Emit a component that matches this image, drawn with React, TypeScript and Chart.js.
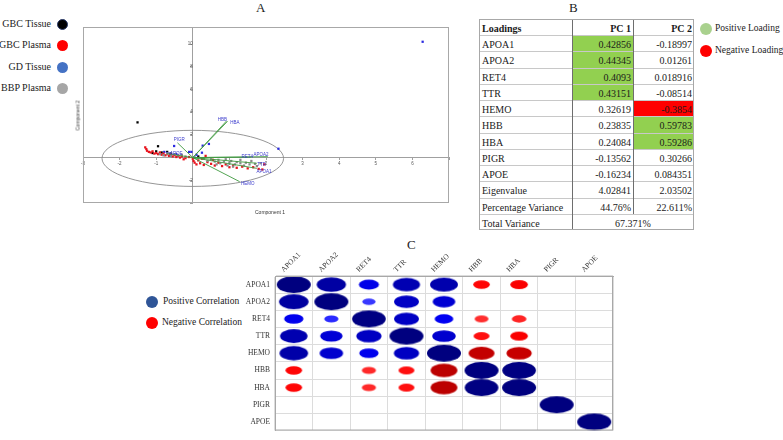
import React, { useEffect, useRef } from 'react';
import { Chart, registerables } from 'chart.js';

Chart.register(...registerables);

// ---------------- Panel A : PCA biplot ----------------
const GBC_TISSUE: number[][] = [
  [-1.51, 3.1], [-0.95, 1.0], [-1.0, 0.55], [-0.85, 0.45], [-0.7, 0.5], [-0.6, 0.35], [-1.1, 0.4], [0.15, 0.1],
];
const GBC_PLASMA: number[][] = [
  [-1.3, 0.9], [-1.27, 0.75], [-1.25, 0.6], [-1.2, 0.5], [-1.15, 0.45], [-1.1, 0.55], [-1.05, 0.35], [-1.0, 0.4],
  [-0.95, 0.3], [-0.9, 0.45], [-0.85, 0.25], [-0.8, 0.35], [-0.75, 0.2], [-0.7, 0.3], [-0.65, 0.15], [-0.6, 0.25],
  [-0.55, 0.1], [-0.5, 0.2], [-0.45, 0.05], [-0.4, 0.15], [-0.35, 0.0], [-0.3, 0.1], [-0.2, -0.05], [-0.1, 0.05],
  [0.0, -0.1], [0.02, -0.3], [0.05, -0.45], [0.1, -0.6], [0.15, -0.25], [0.2, -0.5], [0.3, -0.65], [0.35, 0.15],
  [0.4, -0.4], [0.5, -0.55], [0.55, -0.2], [0.6, -0.7], [0.7, -0.45], [0.8, -0.75], [0.9, -0.6], [1.0, -0.85],
  [1.1, -0.7], [1.2, -0.9], [1.35, -0.8], [1.5, -0.95], [1.65, -0.85], [1.8, -1.0], [1.95, -0.6], [1.9, -1.05],
  [0.25, -0.1], [-0.25, -0.15],
];
const GD_TISSUE: number[][] = [
  [6.28, 10.2], [2.34, 0.78], [-0.51, 1.02], [0.27, 1.05], [0.44, 1.2], [0.25, 0.43], [-0.1, 0.5], [-0.04, 0.5],
  [0.1, 0.25], [-0.78, 0.5], [-0.7, 0.4], [-0.62, 0.35], [-0.45, 0.3], [-0.9, 0.35], [0.05, 0.0],
];
const BBP_PLASMA: number[][] = [
  [-0.9, 0.3], [-0.8, 0.2], [-0.7, 0.35], [-0.6, 0.15], [-0.5, 0.3], [-0.4, 0.2], [-0.3, 0.25], [-0.2, 0.1],
  [0.3, -0.1], [0.4, -0.3], [0.5, -0.15], [0.6, -0.35], [0.7, -0.2], [0.75, -0.5], [0.85, -0.35], [0.9, -0.15],
  [1.0, -0.45], [1.05, -0.3], [1.15, -0.6], [1.2, -0.4], [1.3, -0.5], [1.4, -0.7], [1.45, -0.45], [1.55, -0.6],
  [1.6, -0.3], [1.7, -0.55], [1.75, -0.75], [1.85, -0.5], [1.3, -0.2], [0.95, -0.7], [0.65, -0.6], [1.1, -0.8],
];

const LOADING_NAMES = ['HBB', 'HBA', 'PIGR', 'APOE', 'APOA2', 'RET4', 'TTR', 'APOA1', 'HEMO'];
const LOADING_END_X = [0.92, 0.95, -0.42, -0.7, 2.05, 1.6, 1.75, 1.75, 1.28];
const LOADING_END_Y = [3.22, 3.2, 1.3, 0.35, 0.08, 0.04, -0.5, -0.95, -2.12];
const LOADING_LABEL_X = [0.68, 1.02, -0.52, -0.62, 1.66, 1.33, 1.76, 1.74, 1.32];
const LOADING_LABEL_Y = [3.3, 3.1, 1.55, 0.3, 0.28, 0.05, -0.66, -1.25, -2.32];

const ELLIPSE_CX = 0.0;
const ELLIPSE_CY = -0.07;
const ELLIPSE_RX = 2.48;
const ELLIPSE_RY = 2.47;

const X_MIN = -3, X_MAX = 7, Y_MIN = -4, Y_MAX = 11.5;

// ---------------- Panel B : loadings table ----------------
const TABLE_ROWS = ['APOA1', 'APOA2', 'RET4', 'TTR', 'HEMO', 'HBB', 'HBA', 'PIGR', 'APOE'];
const PC1 = ['0.42856', '0.44345', '0.4093', '0.43151', '0.32619', '0.23835', '0.24084', '-0.13562', '-0.16234'];
const PC2 = ['-0.18997', '0.01261', '0.018916', '-0.08514', '-0.3854', '0.59783', '0.59286', '0.30266', '0.084351'];
const EIGEN = ['4.02841', '2.03502'];
const PCT_VAR = ['44.76%', '22.611%'];
const TOTAL_VAR = '67.371%';
const HIGHLIGHT = 0.38;

// ---------------- Panel C : correlation matrix ----------------
const VARS = ['APOA1', 'APOA2', 'RET4', 'TTR', 'HEMO', 'HBB', 'HBA', 'PIGR', 'APOE'];
const CORR_APOA1 = [1.0, 0.86, 0.59, 0.8, 0.82, -0.49, -0.52, 0, 0];
const CORR_APOA2 = [0.87, 1.0, 0.39, 0.73, 0.67, 0, 0, 0, 0];
const CORR_RET4 = [0.57, 0.42, 0.99, 0.73, 0.55, -0.41, -0.43, 0, 0];
const CORR_TTR = [0.81, 0.66, 0.74, 1.0, 0.69, -0.47, -0.52, 0, 0];
const CORR_HEMO = [0.84, 0.69, 0.57, 0.74, 1.0, -0.76, -0.74, 0, 0];
const CORR_HBB = [-0.49, 0, -0.42, -0.47, -0.79, 1.0, 0.99, 0, 0];
const CORR_HBA = [-0.49, 0, -0.42, -0.47, -0.79, 0.99, 1.0, 0, 0];
const CORR_PIGR = [0, 0, 0, 0, 0, 0, 0, 1.0, 0];
const CORR_APOE = [0, 0, 0, 0, 0, 0, 0, 0, 1.0];
const CORR_ROWS = [CORR_APOA1, CORR_APOA2, CORR_RET4, CORR_TTR, CORR_HEMO, CORR_HBB, CORR_HBA, CORR_PIGR, CORR_APOE];

const SERIF = "'Liberation Serif', 'Times New Roman', serif";
const SANS = "'Liberation Sans', Arial, sans-serif";

function hexToRgb(h: string) {
  return [parseInt(h.slice(1, 3), 16), parseInt(h.slice(3, 5), 16), parseInt(h.slice(5, 7), 16)];
}
const RAMP: [number, string][] = [[-1, '#8b0000'], [-0.5, '#ff0000'], [0, '#ffffff'], [0.5, '#0000ff'], [1, '#00007f']];
function corrColor(v: number) {
  for (let i = 0; i < RAMP.length - 1; i++) {
    const [a, ca] = RAMP[i];
    const [b, cb] = RAMP[i + 1];
    if (v >= a && v <= b) {
      const t = (v - a) / (b - a);
      const A = hexToRgb(ca), B = hexToRgb(cb);
      const c = A.map((x, k) => Math.round(x + (B[k] - x) * t));
      return `rgb(${c[0]},${c[1]},${c[2]})`;
    }
  }
  return '#000';
}

function toPts(arr: number[][]) {
  return arr.map(([x, y]) => ({ x, y }));
}

const pcaPlugin = {
  id: 'pcaDecor',
  beforeDatasetsDraw(chart: any) {
    const { ctx, chartArea: a, scales } = chart;
    const x = scales.x, y = scales.y;
    ctx.save();
    ctx.strokeStyle = '#a8a8a8';
    ctx.lineWidth = 1;
    ctx.strokeRect(a.left + 0.5, a.top + 0.5, a.width - 1, a.height - 1);
    const cx = x.getPixelForValue(ELLIPSE_CX);
    const cy = y.getPixelForValue(ELLIPSE_CY);
    const rx = Math.abs(x.getPixelForValue(ELLIPSE_CX + ELLIPSE_RX) - cx);
    const ry = Math.abs(y.getPixelForValue(ELLIPSE_CY + ELLIPSE_RY) - cy);
    ctx.beginPath();
    ctx.ellipse(cx, cy, rx, ry, 0, 0, Math.PI * 2);
    ctx.strokeStyle = '#8a8a8a';
    ctx.lineWidth = 0.9;
    ctx.stroke();
    ctx.restore();
  },
  afterDatasetsDraw(chart: any) {
    const { ctx, scales } = chart;
    const x = scales.x, y = scales.y;
    ctx.save();
    ctx.font = `4.5px ${SANS}`;
    ctx.fillStyle = '#3a3acc';
    ctx.textAlign = 'left';
    ctx.textBaseline = 'middle';
    LOADING_NAMES.forEach((n, i) => {
      ctx.fillText(n, x.getPixelForValue(LOADING_LABEL_X[i]), y.getPixelForValue(LOADING_LABEL_Y[i]));
    });
    ctx.restore();
  },
};

const corrPlugin = {
  id: 'corrBox',
  afterDraw(chart: any) {
    const { ctx, chartArea: a } = chart;
    ctx.save();
    ctx.strokeStyle = '#a8a8a8';
    ctx.lineWidth = 1;
    ctx.strokeRect(a.left + 0.5, a.top + 0.5, a.width - 1, a.height - 1);
    ctx.restore();
  },
};

function makeEllipse(v: number) {
  const w = 34 * Math.abs(v);
  const h = 17 * Math.abs(v);
  const c = document.createElement('canvas');
  c.width = Math.ceil(w) + 2;
  c.height = Math.ceil(h) + 2;
  const g = c.getContext('2d')!;
  g.fillStyle = corrColor(v);
  g.beginPath();
  g.ellipse(c.width / 2, c.height / 2, w / 2, h / 2, 0, 0, Math.PI * 2);
  g.fill();
  return c;
}

function PcaChart() {
  const ref = useRef<HTMLCanvasElement>(null);
  useEffect(() => {
    const loadingSets = LOADING_NAMES.map((n, i) => ({
      label: n,
      data: [{ x: 0, y: 0 }, { x: LOADING_END_X[i], y: LOADING_END_Y[i] }],
      showLine: true,
      borderColor: '#3f9a3f',
      borderWidth: 0.9,
      pointRadius: 0,
    }));
    const pt = (label: string, data: number[][], color: string) => ({
      label,
      data: toPts(data),
      backgroundColor: color,
      borderColor: color,
      borderWidth: 0,
      pointRadius: 1.6,
      pointStyle: 'rect',
    });
    const chart = new Chart(ref.current!, {
      type: 'scatter',
      data: {
        datasets: [
          ...loadingSets,
          pt('BBP Plasma', BBP_PLASMA, '#8a8a8a'),
          pt('GBC Plasma', GBC_PLASMA, '#e8141e'),
          pt('GD Tissue', GD_TISSUE, '#2a2ae0'),
          pt('GBC Tissue', GBC_TISSUE, '#000000'),
        ] as any,
      },
      options: {
        animation: false,
        responsive: false,
        layout: { padding: { left: 20, right: 20, top: 15, bottom: 15 } },
        plugins: { legend: { display: false }, tooltip: { enabled: false } },
        scales: {
          x: {
            type: 'linear',
            min: X_MIN,
            max: X_MAX,
            position: { y: 0 } as any,
            border: { color: '#a0a0a0', width: 1 },
            grid: { drawOnChartArea: false, tickLength: 2, color: '#a0a0a0' },
            ticks: {
              stepSize: 1,
              autoSkip: false,
              maxRotation: 0,
              padding: 1,
              color: '#555',
              font: { size: 4.5, family: SANS },
              callback: (v: any) => (v === 0 || v >= X_MAX ? '' : String(v)),
            },
          },
          y: {
            type: 'linear',
            min: Y_MIN,
            max: Y_MAX,
            position: { x: 0 } as any,
            border: { color: '#a0a0a0', width: 1 },
            grid: { drawOnChartArea: false, tickLength: 2, color: '#a0a0a0' },
            ticks: {
              stepSize: 2,
              autoSkip: false,
              padding: 1,
              color: '#555',
              font: { size: 4.5, family: SANS },
              callback: (v: any) => (v === 0 || v <= Y_MIN || v > 10.5 ? '' : String(v)),
            },
          },
        },
      },
      plugins: [pcaPlugin],
    });
    return () => chart.destroy();
  }, []);
  return <canvas ref={ref} width={406} height={206} style={{ position: 'absolute', left: 63, top: 12 }} />;
}

function CorrChart() {
  const ref = useRef<HTMLCanvasElement>(null);
  useEffect(() => {
    const cells: { x: string; y: string; v: number }[] = [];
    CORR_ROWS.forEach((row, r) => {
      row.forEach((v, c) => {
        if (v !== 0) cells.push({ x: VARS[c], y: VARS[r], v });
      });
    });
    const imgs = cells.map((c) => makeEllipse(c.v));
    const chart = new Chart(ref.current!, {
      type: 'scatter',
      data: {
        datasets: [
          {
            label: 'corr',
            data: cells.map((c) => ({ x: c.x, y: c.y })) as any,
            pointStyle: (ctx: any) => imgs[ctx.dataIndex],
            pointRadius: 5,
          } as any,
        ],
      },
      options: {
        animation: false,
        responsive: false,
        layout: { padding: { left: 0, right: 7, top: 0, bottom: 2 } },
        plugins: { legend: { display: false }, tooltip: { enabled: false } },
        scales: {
          x: {
            type: 'category',
            labels: VARS,
            position: 'top',
            offset: true,
            grid: { offset: true, color: '#dcdcdc', drawTicks: false },
            border: { color: '#a8a8a8' },
            ticks: {
              minRotation: 45,
              maxRotation: 45,
              padding: 2,
              labelOffset: -5,
              color: '#333',
              font: { family: SERIF, size: 7.5 },
            },
            afterFit: (s: any) => {
              s.height = 26;
            },
          } as any,
          y: {
            type: 'category',
            labels: VARS,
            offset: true,
            grid: { offset: true, color: '#dcdcdc', drawTicks: false },
            border: { color: '#a8a8a8' },
            ticks: {
              padding: 5,
              color: '#333',
              font: { family: SERIF, size: 7.5 },
            },
            afterFit: (s: any) => {
              s.width = 55;
            },
          } as any,
        },
      },
      plugins: [corrPlugin],
    });
    return () => chart.destroy();
  }, []);
  return <canvas ref={ref} width={400} height={190} style={{ position: 'absolute', left: 220, top: 250 }} />;
}

const dot = (left: number, top: number, color: string, r: number, border?: string): React.CSSProperties => ({
  position: 'absolute',
  left: left - r,
  top: top - r,
  width: r * 2,
  height: r * 2,
  borderRadius: '50%',
  background: color,
  boxSizing: 'border-box',
  border: border ? `1px solid ${border}` : 'none',
});

const txt = (style: React.CSSProperties): React.CSSProperties => ({
  position: 'absolute',
  fontFamily: SERIF,
  color: '#222',
  whiteSpace: 'nowrap',
  lineHeight: 1,
  ...style,
});

function LoadingTable() {
  const L = 479, T = 19, ROW_H = 211 / 13;
  const COL_X = [0, 93, 154, 215];
  const cells: React.ReactNode[] = [];
  const rows: { label: string; a: string; b: string | null; bold?: boolean; hl?: boolean }[] = [
    { label: 'Loadings', a: 'PC 1', b: 'PC 2', bold: true },
    ...TABLE_ROWS.map((r, i) => ({ label: r, a: PC1[i], b: PC2[i], hl: true })),
    { label: 'Eigenvalue', a: EIGEN[0], b: EIGEN[1] },
    { label: 'Percentage Variance', a: PCT_VAR[0], b: PCT_VAR[1] },
    { label: 'Total Variance', a: TOTAL_VAR, b: null },
  ];
  const fill = (v: string, hl?: boolean) => {
    if (!hl) return 'transparent';
    const n = parseFloat(v);
    if (Math.abs(n) >= HIGHLIGHT) return n > 0 ? '#92d050' : '#ff0000';
    return 'transparent';
  };
  const base: React.CSSProperties = {
    position: 'absolute',
    boxSizing: 'border-box',
    height: ROW_H,
    fontFamily: SERIF,
    fontSize: 10,
    lineHeight: `${ROW_H}px`,
    paddingTop: 2,
    whiteSpace: 'nowrap',
    color: '#1a1a1a',
  };
  rows.forEach((r, i) => {
    const top = T + i * ROW_H;
    cells.push(
      <div key={`l${i}`} style={{ ...base, left: L, top, width: COL_X[1], paddingLeft: 3, fontWeight: r.bold ? 'bold' : 'normal' }}>
        {r.label}
      </div>
    );
    if (r.b === null) {
      cells.push(
        <div key={`a${i}`} style={{ ...base, left: L + COL_X[1], top, width: COL_X[3] - COL_X[1], textAlign: 'center' }}>
          {r.a}
        </div>
      );
    } else {
      cells.push(
        <div
          key={`a${i}`}
          style={{ ...base, left: L + COL_X[1], top, width: COL_X[2] - COL_X[1], textAlign: 'right', paddingRight: 2, background: fill(r.a, r.hl), fontWeight: r.bold ? 'bold' : 'normal' }}
        >
          {r.a}
        </div>
      );
      cells.push(
        <div
          key={`b${i}`}
          style={{ ...base, left: L + COL_X[2], top, width: COL_X[3] - COL_X[2], textAlign: 'right', paddingRight: 2, background: fill(r.b, r.hl), fontWeight: r.bold ? 'bold' : 'normal' }}
        >
          {r.b}
        </div>
      );
    }
    if (i > 0) {
      cells.push(<div key={`h${i}`} style={{ position: 'absolute', left: L, top: Math.round(top), width: 215, height: 1, background: '#c8c8c8' }} />);
    }
  });
  // column separators
  cells.push(<div key="v1" style={{ position: 'absolute', left: L + COL_X[1], top: T, width: 1, height: 211, background: '#6e6e6e' }} />);
  cells.push(<div key="v2" style={{ position: 'absolute', left: L + COL_X[2], top: T, width: 1, height: 12 * ROW_H, background: '#6e6e6e' }} />);
  cells.push(
    <div key="box" style={{ position: 'absolute', left: L, top: T, width: 215, height: 211, boxSizing: 'border-box', border: '1px solid #a8a8a8' }} />
  );
  return <>{cells}</>;
}

export default function App() {
  const legA = [
    { t: 'GBC Tissue', c: '#000000', b: '#2a3a6a', y: 24 },
    { t: 'GBC Plasma', c: '#ff0000', y: 45 },
    { t: 'GD Tissue', c: '#4472c4', y: 67 },
    { t: 'BBP Plasma', c: '#a6a6a6', y: 88 },
  ];
  return (
    <div style={{ position: 'absolute', left: 0, top: 0, width: 783, height: 440, background: '#fff', overflow: 'hidden' }}>
      <div style={txt({ left: 256, top: 1, fontSize: 13 })}>A</div>
      <div style={txt({ left: 569, top: 1, fontSize: 13 })}>B</div>
      <div style={txt({ left: 407, top: 238, fontSize: 13 })}>C</div>

      {legA.map((l) => (
        <React.Fragment key={l.t}>
          <div style={txt({ right: 783 - 51, top: l.y - 5, fontSize: 10, textAlign: 'right' })}>{l.t}</div>
          <div style={dot(62, l.y, l.c, 5.5, l.b)} />
        </React.Fragment>
      ))}

      <PcaChart />
      <div style={txt({ left: 255, top: 210, fontSize: 5, fontFamily: SANS, color: '#333' })}>Component 1</div>
      <div
        style={txt({
          left: 63,
          top: 113,
          fontSize: 5,
          fontFamily: SANS,
          color: '#333',
          transform: 'rotate(-90deg)',
          transformOrigin: 'center center',
        })}
      >
        Component 2
      </div>

      <LoadingTable />
      <div style={dot(706, 29, '#a9d18e', 6)} />
      <div style={txt({ left: 715, top: 24, fontSize: 9.5 })}>Positive Loading</div>
      <div style={dot(706, 51, '#ff0000', 6)} />
      <div style={txt({ left: 715, top: 46, fontSize: 9.5 })}>Negative Loading</div>

      <div style={dot(152, 302, '#2f5597', 6)} />
      <div style={txt({ left: 163, top: 297, fontSize: 9.5 })}>Positive Correlation</div>
      <div style={dot(152, 323, '#ff0000', 6)} />
      <div style={txt({ left: 162, top: 318, fontSize: 9.5 })}>Negative Correlation</div>

      <CorrChart />
    </div>
  );
}
